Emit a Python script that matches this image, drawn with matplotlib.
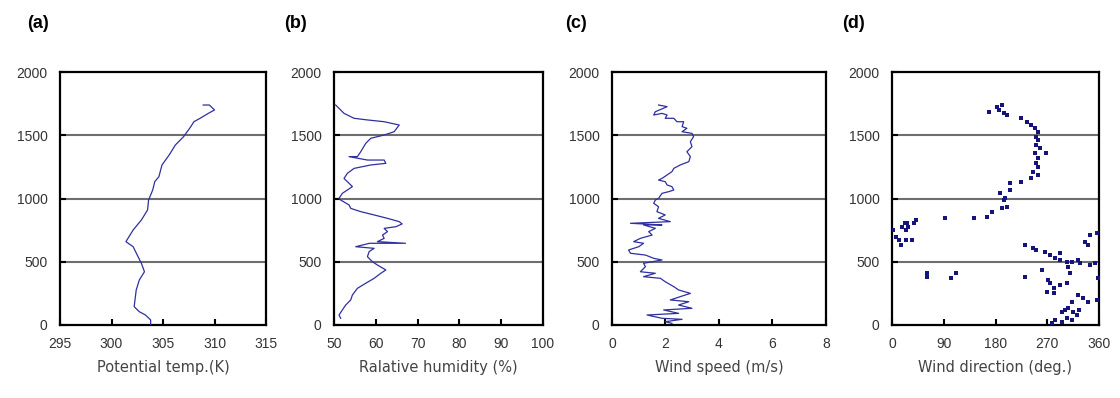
import numpy as np
import matplotlib
matplotlib.use("Agg")
import matplotlib.pyplot as plt

# ── Profile data ────────────────────────────────────────────────────────────
theta_h = [0, 40, 79, 105, 145, 277, 356, 421, 488, 553, 619, 659, 751, 830,
           909, 988, 1067, 1133, 1172, 1265, 1344, 1423, 1489, 1568, 1607,
           1634, 1673, 1700, 1739, 1739]
theta = [303.8, 303.8, 303.3, 302.7, 302.2, 302.4, 302.7, 303.2, 302.9, 302.5,
         302.1, 301.4, 302.1, 302.9, 303.5, 303.6, 304.0, 304.2, 304.6, 304.9,
         305.6, 306.2, 307.0, 307.7, 308.0, 308.6, 309.4, 310.0, 309.5, 308.9]

rh_h = [53, 79, 119, 158, 198, 237, 290, 330, 369, 409, 435, 474, 500, 540,
        580, 606, 619, 646, 646, 659, 685, 711, 738, 764, 777, 799, 817, 843,
        870, 896, 922, 949, 988, 1001, 1041, 1067, 1094, 1120, 1159, 1199,
        1238, 1265, 1278, 1304, 1304, 1331, 1331, 1370, 1436, 1476, 1502,
        1528, 1581, 1607, 1621, 1634, 1673, 1739]
rh = [51.6, 51.2, 52.0, 52.8, 54.0, 54.4, 55.6, 57.6, 59.6, 61.2, 62.4, 60.4,
      59.2, 58.0, 58.4, 59.6, 55.2, 58.5, 67.1, 60.4, 62.0, 61.6, 62.8, 62.0,
      64.8, 66.3, 65.6, 62.8, 59.6, 56.4, 54.0, 53.6, 51.6, 51.2, 52.0, 53.2,
      54.4, 53.6, 52.4, 53.2, 54.8, 58.8, 62.4, 62.0, 58.0, 53.6, 55.6, 56.4,
      57.6, 58.8, 62.0, 64.4, 65.6, 62.0, 58.0, 54.8, 52.4, 50.4]

ws_h = [13, 26, 45, 53, 79, 92, 119, 132, 158, 184, 198, 224, 250, 277, 303,
        342, 369, 382, 409, 421, 461, 488, 500, 514, 527, 553, 567, 593, 619,
        646, 659, 685, 711, 738, 764, 791, 791, 804, 817, 843, 870, 896, 935,
        962, 988, 1001, 1041, 1054, 1067, 1094, 1107, 1133, 1146, 1159, 1186,
        1212, 1238, 1265, 1291, 1331, 1370, 1410, 1449, 1489, 1515, 1528,
        1555, 1568, 1607, 1607, 1634, 1634, 1660, 1673, 1660, 1686, 1726,
        1739]
ws = [2.24, 1.99, 2.62, 1.87, 1.31, 2.49, 1.93, 2.99, 2.49, 2.87, 2.18, 2.55,
      2.93, 2.49, 2.31, 1.99, 1.81, 1.18, 1.62, 1.06, 1.25, 1.18, 1.50, 1.87,
      1.56, 1.25, 0.69, 0.62, 1.00, 1.18, 0.81, 1.06, 1.50, 1.37, 1.62, 1.18,
      1.87, 0.69, 2.18, 1.74, 1.99, 1.68, 1.74, 1.56, 1.62, 1.74, 1.87, 2.12,
      2.31, 2.24, 2.06, 1.99, 1.74, 1.87, 2.06, 2.24, 2.31, 2.55, 2.87, 2.93,
      2.80, 2.99, 2.93, 3.05, 2.99, 2.62, 2.80, 2.62, 2.68, 2.43, 2.31, 1.99,
      2.06, 1.87, 1.56, 1.62, 2.06, 1.74]

wd_h = [1687, 1726, 1739, 1700, 1673, 1660, 1634, 1607, 1581, 1555, 1528, 1489,
        1463, 1423, 1397, 1358, 1358, 1318, 1279, 1252, 1213, 1186, 1160, 1134,
        1120, 1068, 1041, 988, 1002, 936, 922, 896, 857, 844, 844,
        752, 699, 673, 633, 673, 673, 805, 778, 752, 805, 830, 804, 778,
        409, 383, 370, 409,
        632, 607, 593, 580, 553, 527, 567, 514, 501, 501, 514, 488, 461, 409,
        435, 382, 475, 488, 659, 632, 712, 725, 356, 330, 316, 330, 290, 264,
        251, 238, 211, 185, 185, 132, 119, 106, 106, 79, 53, 40, 26, 40, 13,
        119, 198, 370]
wd = [168, 183, 191, 186, 194, 200, 225, 234, 242, 248, 254, 251, 254, 251,
      257, 248, 268, 254, 251, 254, 245, 254, 242, 225, 206, 205, 188, 194,
      196, 200, 191, 174, 165, 142, 93,
      2, 7, 13, 16, 25, 34, 22, 28, 25, 39, 41, 26, 17,
      61, 61, 103, 112,
      231, 246, 251, 266, 274, 283, 292, 292, 304, 313, 324, 327, 306, 310,
      260, 231, 344, 353, 336, 341, 344, 356, 272, 275, 292, 304, 281, 269,
      281, 324, 332, 313, 341, 306, 301, 295, 315, 321, 304, 284, 295, 313,
      278, 326, 356, 358]

FIG_W, FIG_H = 1120, 398
LINE_C = "#2f2fa0"
DOT_C = "#14147a"

plt.rcParams["font.family"] = ["Liberation Sans", "DejaVu Sans"]

fig = plt.figure(figsize=(FIG_W / 100, FIG_H / 100), dpi=100)


def make_axes(left, right, top=72, bottom=325):
    return fig.add_axes([left / FIG_W, 1 - bottom / FIG_H,
                         (right - left) / FIG_W, (bottom - top) / FIG_H])


def style(ax, xlim, xticks, xlabel, letter, letter_x):
    ax.set_xlim(*xlim)
    ax.set_ylim(0, 2000)
    ax.set_xticks(xticks)
    ax.set_yticks([0, 500, 1000, 1500, 2000])
    for h in (500, 1000, 1500):
        ax.axhline(h, color="#6e6e6e", lw=1.5, zorder=1)
    for s in ax.spines.values():
        s.set_linewidth(1.6)
        s.set_color("black")
    ax.tick_params(direction="in", length=4, width=1.5, labelsize=10,
                   colors="black", labelcolor="#333333", pad=9)
    ax.set_xlabel(xlabel, family="DejaVu Sans", fontsize=10.5, color="#444444",
                  labelpad=6)
    fig.text(letter_x / FIG_W, 1 - 24 / FIG_H, letter, fontsize=13,
             fontweight="bold", va="center", ha="left")


ax1 = make_axes(60, 266)
ax1.plot(theta, theta_h, color=LINE_C, lw=0.9, zorder=3)
style(ax1, (295, 315), [295, 300, 305, 310, 315], "Potential temp.(K)",
      "(a)", 27)

ax2 = make_axes(334, 543)
ax2.plot(rh, rh_h, color=LINE_C, lw=0.9, zorder=3)
style(ax2, (50, 100), [50, 60, 70, 80, 90, 100], "Ralative humidity (%)",
      "(b)", 284)

ax3 = make_axes(612, 826)
ax3.plot(ws, ws_h, color=LINE_C, lw=0.9, zorder=3)
style(ax3, (0, 8), [0, 2, 4, 6, 8], "Wind speed (m/s)", "(c)", 565)

ax4 = make_axes(892, 1099)
ax4.scatter(wd, wd_h, s=5, marker="s", color=DOT_C, lw=0, zorder=3)
style(ax4, (0, 360), [0, 90, 180, 270, 360], "Wind direction (deg.)",
      "(d)", 842)

fig.savefig("out.png", dpi=100)
